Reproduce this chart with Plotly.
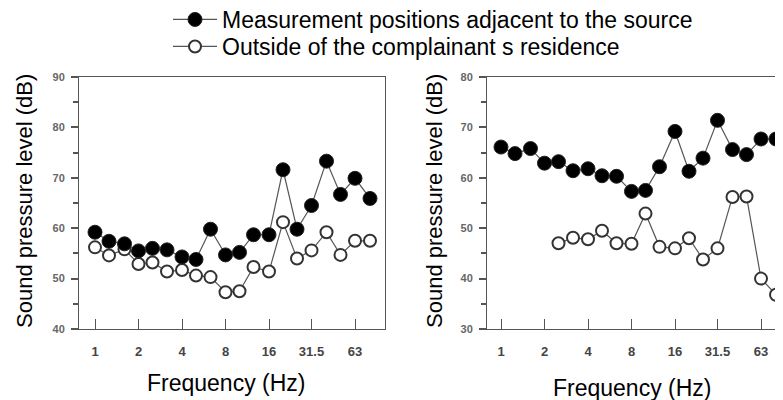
import math
import plotly.graph_objects as go

# ---------------- data ----------------
freq_hz = [1, 1.25, 1.6, 2, 2.5, 3.15, 4, 5, 6.3, 8, 10, 12.5, 16, 20, 25, 31.5, 40, 50, 63, 80]

left_source = [59.2, 57.4, 56.9, 55.5, 56.0, 55.7, 54.3, 53.8, 59.8, 54.7,
               55.2, 58.7, 58.7, 71.6, 59.8, 64.5, 73.3, 66.7, 69.9, 65.9]
left_residence = [56.2, 54.6, 55.8, 52.9, 53.2, 51.4, 51.7, 50.6, 50.3, 47.3,
                  47.5, 52.3, 51.4, 61.2, 54.0, 55.6, 59.2, 54.7, 57.5, 57.5]

right_source = [66.1, 64.8, 65.8, 62.9, 63.2, 61.4, 61.8, 60.4, 60.3, 57.3,
                57.5, 62.2, 69.2, 61.3, 63.9, 71.4, 65.6, 64.6, 67.7, 67.7]
right_residence = [None, None, None, None, 47.0, 48.1, 47.8, 49.5, 47.0, 46.9,
                   52.9, 46.3, 46.0, 48.0, 43.8, 46.0, 56.2, 56.3, 40.0, 36.8]

tick_values = [1, 2, 4, 8, 16, 31.5, 63]
tick_labels = ["1", "2", "4", "8", "16", "31.5", "63"]

name_source = "Measurement positions adjacent to the source"
name_residence = "Outside of the complainant s residence"
x_title = "Frequency (Hz)"
y_title = "Sound pressure level (dB)"

# ---------------- styling ----------------
# The page body has an 8px default margin, so the figure is sized to fill the
# remaining 783x400 viewport and positions are given in viewport pixels.
OFF = 8
W, H = 783 - OFF, 400 - OFF
FONT = "Liberation Sans, Arial, sans-serif"
LINE_C = "#555555"
AX_C = "#555555"

def px_x(p):
    return (p - OFF) / W

def px_y(p):
    return (H - (p - OFF)) / H

y_dom = [px_y(329), px_y(77)]

fig = go.Figure()

def add_series(x, y, xa, ya, name, filled, legend, show):
    fig.add_trace(go.Scatter(
        x=x, y=y, xaxis=xa, yaxis=ya, name=name,
        mode="lines+markers",
        line=dict(color=LINE_C, width=1.2),
        marker=dict(
            symbol="circle",
            size=14 if filled else 12,
            color="#000000" if filled else "#ffffff",
            line=dict(color="#222222" if filled else "#333333", width=1 if filled else 2),
        ),
        connectgaps=False,
        showlegend=show, legend=legend,
        cliponaxis=False,
    ))

add_series(freq_hz, left_residence, "x", "y", name_residence, False, "legend2", True)
add_series(freq_hz, left_source, "x", "y", name_source, True, "legend", True)
add_series(freq_hz, right_residence, "x2", "y2", name_residence, False, "legend2", False)
add_series(freq_hz, right_source, "x2", "y2", name_source, True, "legend", False)

oct_px = 43.5
def log_range(left_px, one_hz_px, right_px):
    return [math.log10(2 ** ((left_px - one_hz_px) / oct_px)),
            math.log10(2 ** ((right_px - one_hz_px) / oct_px))]

xcommon = dict(
    type="log", tickvals=tick_values, ticktext=tick_labels,
    ticks="inside", ticklen=10, tickcolor=AX_C, tickwidth=1,
    showline=True, linecolor=AX_C, linewidth=1,
    showgrid=False, zeroline=False,
    tickfont=dict(family=FONT, size=13, color="#444444", weight="bold"),
    ticklabelstandoff=10,
)
ycommon = dict(
    dtick=10, ticks="outside", ticklen=7, tickcolor=AX_C, tickwidth=1.5,
    minor=dict(dtick=5, ticks="outside", ticklen=5, tickcolor=AX_C, tickwidth=1.5),
    showline=True, linecolor=AX_C, linewidth=1,
    showgrid=False, zeroline=False,
    tickfont=dict(family=FONT, size=11, color="#666666", weight="bold"),
    ticklabelstandoff=4,
)

legend_common = dict(xanchor="left", yanchor="top",
                     font=dict(family=FONT, size=23, color="#000000"),
                     itemwidth=44, bgcolor="rgba(0,0,0,0)", borderwidth=0)

fig.update_layout(
    width=W, height=H, autosize=False,
    margin=dict(l=0, r=0, t=0, b=0, autoexpand=False),
    paper_bgcolor="white", plot_bgcolor="white",
    xaxis=dict(xcommon, domain=[px_x(79), px_x(385)], range=log_range(79, 95, 385),
               anchor="y", mirror=True),
    yaxis=dict(ycommon, domain=y_dom, range=[40, 90], anchor="x", mirror=True),
    xaxis2=dict(xcommon, domain=[px_x(487), 1.0], range=log_range(487, 501, 783),
                anchor="y2", mirror=True),
    yaxis2=dict(ycommon, domain=y_dom, range=[30, 80], anchor="x2", mirror=False),
    legend=dict(legend_common, x=px_x(168), y=px_y(-2)),
    legend2=dict(legend_common, x=px_x(168), y=px_y(25)),
)

title_font = dict(family=FONT, size=23, color="#000000")
ytitle_font = dict(family=FONT, size=22, color="#000000")
fig.add_annotation(text=x_title, xref="paper", yref="paper", x=px_x(226), y=px_y(383),
                   xanchor="center", yanchor="middle", showarrow=False, font=title_font)
fig.add_annotation(text=x_title, xref="paper", yref="paper", x=px_x(632), y=px_y(388),
                   xanchor="center", yanchor="middle", showarrow=False, font=title_font)
fig.add_annotation(text=y_title, xref="paper", yref="paper", x=px_x(24), y=px_y(201),
                   xanchor="center", yanchor="middle", textangle=-90, showarrow=False,
                   font=ytitle_font)
fig.add_annotation(text=y_title, xref="paper", yref="paper", x=px_x(434), y=px_y(201),
                   xanchor="center", yanchor="middle", textangle=-90, showarrow=False,
                   font=ytitle_font)

fig.write_html("out.html")
